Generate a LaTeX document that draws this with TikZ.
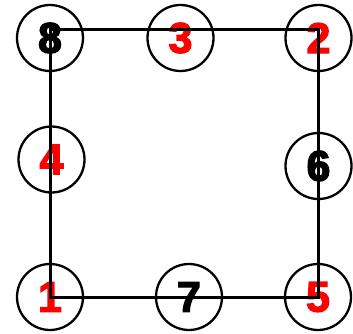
\documentclass[tikz,border=0pt]{standalone}
\usepackage{fontspec}
\setmainfont{Liberation Sans}[BoldFeatures={FakeBold=3}]
\newcommand{\dn}[1]{\raisebox{-2.5pt}{#1}}
\begin{document}
\begin{tikzpicture}[x=1pt,y=-1pt,
  ring/.style={circle,draw=black,line width=2.3pt,minimum size=66pt,inner sep=0pt,
    font=\fontsize{43}{43}\selectfont\bfseries},
  redn/.style={ring,text=red},
  blkn/.style={ring,text=black},
  edge/.style={line width=3.5pt,draw=black}]
\useasboundingbox (0,0) rectangle (353,334);
\node[blkn] (n8) at (50,38) {\dn{8}};
\node[redn] (n3) at (180.5,38) {\dn{3}};
\node[redn] (n2) at (318.5,38) {\dn{2}};
\node[redn] (n4) at (51.5,159.5) {\dn{4}};
\node[blkn] (n6) at (318.5,166) {\dn{6}};
\node[redn] (n1) at (50,297) {\dn{1}};
\node[blkn] (n7) at (189,297) {\dn{7}};
\node[redn] (n5) at (318,297) {\dn{5}};
\coordinate (c8) at (50.7,29.5);
\coordinate (c2) at (318.7,29.5);
\coordinate (c5) at (318.7,297.3);
\coordinate (c1) at (50.7,297.3);
\draw[edge] (c8) -- (c2) -- (c5) -- (c1) -- cycle;
\end{tikzpicture}
\end{document}
